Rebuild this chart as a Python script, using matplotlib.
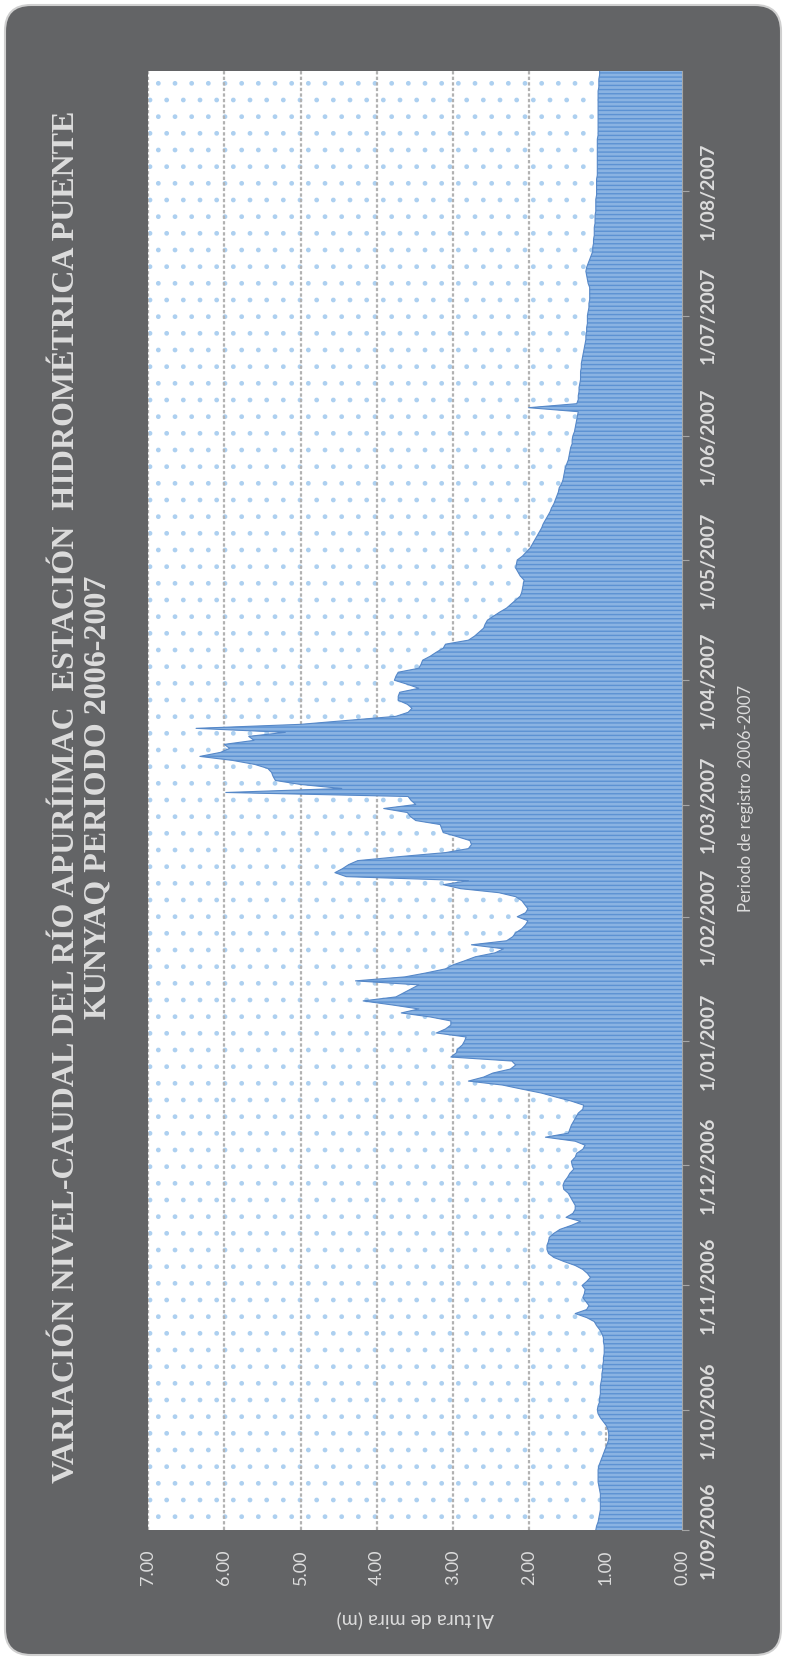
# water level at Puente Kunyaq station, Apurimac river, Sep 2006 - Aug 2007
# chart is drawn turned on its side like the original sheet

import numpy as np
import pandas as pd
import matplotlib
matplotlib.use("Agg")
import matplotlib.pyplot as plt
from matplotlib.patches import FancyBboxPatch, Rectangle

plt.rcParams['font.family'] = ['Lato', 'DejaVu Sans']

# daily gauge height (m)
sep_2006 = [1.13, 1.12, 1.10, 1.09, 1.08, 1.07, 1.07, 1.07, 1.07, 1.07,
            1.08, 1.09, 1.10, 1.10, 1.10, 1.10, 1.09, 1.07, 1.05, 1.03,
            1.01, 0.99, 0.97, 0.96, 0.96, 0.97, 0.99, 1.03, 1.07, 1.10]
oct_2006 = [1.11, 1.10, 1.08, 1.08, 1.07, 1.07, 1.07, 1.06, 1.05, 1.05,
            1.04, 1.04, 1.03, 1.03, 1.02, 1.02, 1.02, 1.03, 1.03, 1.05,
            1.08, 1.12, 1.15, 1.25, 1.40, 1.25, 1.22, 1.26, 1.30, 1.28, 1.27]
nov_2006 = [1.31, 1.25, 1.20, 1.24, 1.30, 1.40, 1.55, 1.68, 1.75, 1.77,
            1.77, 1.75, 1.74, 1.68, 1.60, 1.45, 1.33, 1.52, 1.43, 1.40,
            1.40, 1.43, 1.46, 1.49, 1.55, 1.56, 1.54, 1.50, 1.47, 1.42]
dec_2006 = [1.44, 1.45, 1.40, 1.38, 1.30, 1.27, 1.40, 1.79, 1.49, 1.47,
            1.45, 1.42, 1.39, 1.36, 1.30, 1.29, 1.45, 1.65, 1.84, 2.10,
            2.35, 2.80, 2.60, 2.48, 2.25, 2.18, 2.23, 3.03, 2.96, 2.94, 2.88]
jan_2007 = [2.85, 2.83, 3.22, 3.10, 3.03, 3.03, 3.30, 3.68, 3.45, 3.80,
            4.18, 3.75, 3.65, 3.55, 3.45, 4.28, 3.63, 3.35, 3.10, 3.00,
            2.85, 2.71, 2.45, 2.34, 2.76, 2.30, 2.22, 2.18, 2.10, 2.05, 2.02]
feb_2007 = [2.16, 2.05, 2.02, 2.06, 2.10, 2.18, 2.40, 2.90, 3.13, 2.80,
            4.40, 4.55, 4.45, 4.37, 4.25, 3.70, 3.10, 2.80, 2.76, 2.78,
            2.95, 3.13, 3.15, 3.17, 3.49, 3.56, 3.60, 3.91]
mar_2007 = [3.49, 3.55, 3.59, 5.98, 4.46, 5.00, 5.33, 5.36, 5.38, 5.43,
            5.60, 5.89, 6.32, 6.05, 5.93, 6.00, 5.61, 5.68, 5.20, 6.37,
            5.00, 4.37, 3.75, 3.59, 3.54, 3.60, 3.72, 3.72, 3.70, 3.45, 3.60]
apr_2007 = [3.77, 3.75, 3.72, 3.45, 3.42, 3.40, 3.30, 3.22, 3.13, 3.10,
            2.80, 2.72, 2.66, 2.60, 2.58, 2.55, 2.47, 2.39, 2.30, 2.24,
            2.18, 2.12, 2.10, 2.09, 2.08, 2.07, 2.12, 2.15, 2.18, 2.17]
may_2007 = [2.16, 2.09, 2.04, 1.99, 1.96, 1.93, 1.90, 1.87, 1.84, 1.82,
            1.79, 1.76, 1.73, 1.71, 1.68, 1.66, 1.64, 1.62, 1.61, 1.58,
            1.56, 1.55, 1.54, 1.53, 1.51, 1.49, 1.48, 1.47, 1.46, 1.44, 1.44]
jun_2007 = [1.43, 1.41, 1.40, 1.39, 1.38, 1.37, 1.36, 2.01, 1.38, 1.36,
            1.36, 1.35, 1.35, 1.34, 1.33, 1.33, 1.33, 1.32, 1.32, 1.31,
            1.30, 1.29, 1.28, 1.27, 1.26, 1.26, 1.25, 1.25, 1.24, 1.24]
jul_2007 = [1.24, 1.23, 1.22, 1.22, 1.21, 1.21, 1.21, 1.21, 1.23, 1.24,
            1.25, 1.26, 1.25, 1.23, 1.21, 1.19, 1.17, 1.17, 1.16, 1.16,
            1.15, 1.15, 1.15, 1.14, 1.14, 1.14, 1.13, 1.13, 1.13, 1.13, 1.12]
aug_2007 = [1.12, 1.12, 1.12, 1.12, 1.11, 1.11, 1.11, 1.11, 1.11, 1.11,
            1.11, 1.11, 1.11, 1.11, 1.10, 1.10, 1.10, 1.10, 1.10, 1.10,
            1.10, 1.10, 1.10, 1.10, 1.10, 1.10, 1.09, 1.09, 1.09, 1.08, 1.08]

month_ticks = ["2006-09-01", "2006-10-01", "2006-11-01", "2006-12-01",
               "2007-01-01", "2007-02-01", "2007-03-01", "2007-04-01",
               "2007-05-01", "2007-06-01", "2007-07-01", "2007-08-01"]
month_labels = ["1/09/2006", "1/10/2006", "1/11/2006", "1/12/2006",
                "1/01/2007", "1/02/2007", "1/03/2007", "1/04/2007",
                "1/05/2007", "1/06/2007", "1/07/2007", "1/08/2007"]
value_ticks = [0, 1, 2, 3, 4, 5, 6, 7]
value_labels = ["0.00", "1.00", "2.00", "3.00", "4.00", "5.00", "6.00", "7.00"]

title = ("VARIACIÓN NIVEL-CAUDAL DEL RÍO APURÍIMAC  ESTACIÓN  HIDROMÉTRICA PUENTE\n"
         "KUNYAQ PERIODO 2006-2007")

values = (sep_2006 + oct_2006 + nov_2006 + dec_2006 + jan_2007 + feb_2007 +
          mar_2007 + apr_2007 + may_2007 + jun_2007 + jul_2007 + aug_2007)
dates = pd.date_range("2006-09-01", periods=len(values), freq="D")

W, H = 786, 1659
TXT = "#dcdcdc"

fig = plt.figure(figsize=(W / 100, H / 100), dpi=100, facecolor="white")

# dark rounded chart frame (pixel coords)
frame = FancyBboxPatch((5, 4), 776, 1650, boxstyle="round,pad=0,rounding_size=26",
                       transform=None, facecolor="#636466", edgecolor="#cfcfcf",
                       lw=1.5, zorder=0)
fig.add_artist(frame)

ax = fig.add_axes([148 / W, 1 - 1530 / H, 534 / W, 1459 / H])
ax.set_facecolor("white")
# dotted paper pattern
ax.add_patch(Rectangle((0, 0), 1, 1, transform=ax.transAxes, facecolor="none",
                       edgecolor="#add0f0", hatch=".", lw=0, zorder=0))
ax.set_axisbelow(True)
ax.grid(axis="x", color="#b2b2b2", linestyle=(0, (1.5, 1)), lw=1.6)

ax.fill_betweenx(dates, 0, values, facecolor="#8ab3e2", edgecolor="#5c92d3",
                 hatch="----", lw=0, zorder=2)
ax.plot(values, dates, color="#5688c8", lw=0.8, zorder=3)

ax.set_xlim(7, 0)
ax.set_ylim(dates[0], dates[-1])

ax.set_xticks(value_ticks)
ax.set_xticklabels(value_labels, rotation=90, color=TXT, fontsize=13)
ax.tick_params(axis="x", length=0, pad=14)

ax.yaxis.tick_right()
ax.set_yticks(pd.to_datetime(month_ticks))
ax.set_yticklabels(month_labels, rotation=90, va="center", color=TXT,
                   fontsize=14, fontweight="bold")
ax.tick_params(axis="y", length=5, color="#a6a6a6", pad=8)

for side in ["left", "top", "bottom"]:
    ax.spines[side].set_visible(False)
ax.spines["right"].set_color("#a6a6a6")

fig.text(82 / W, 1 - 797 / H, title, rotation=90, ha="center", va="center",
         multialignment="center", family="Liberation Serif", fontweight="bold",
         fontsize=23, color=TXT, linespacing=1.1)
fig.text(415 / W, 1 - 1620 / H, "Al.tura de mira (m)", rotation=180,
         ha="center", va="center", fontsize=14, color=TXT)
fig.text(746 / W, 1 - 798 / H, "Periodo de registro 2006-2007", rotation=90,
         ha="center", va="center", fontsize=12, color=TXT)

fig.savefig("out.png", dpi=100, facecolor="white")
plt.close(fig)
